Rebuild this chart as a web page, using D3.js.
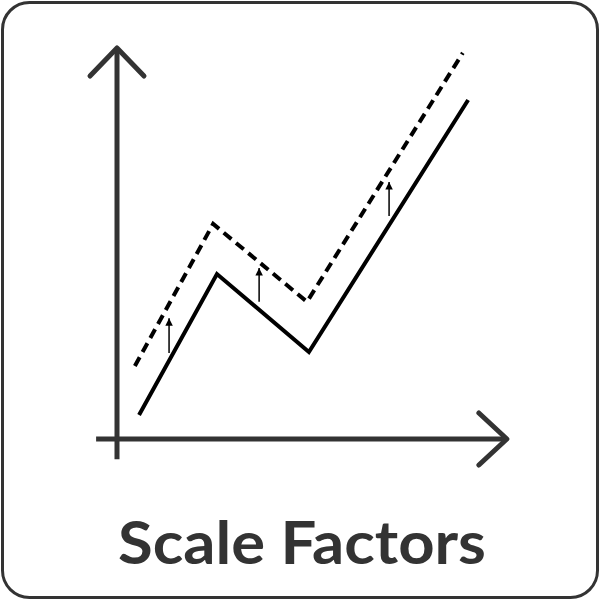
<!DOCTYPE html>
<html>
<head>
<meta charset="utf-8">
<script src="https://cdn.jsdelivr.net/npm/d3@7"></script>
<style>
  html, body { margin: 0; padding: 0; background: #ffffff; }
  svg { display: block; }
</style>
</head>
<body>
<div id="chart"></div>
<script>
// values, in axis units (0..10 on both axes)
const baseX = [0.58, 2.63, 5.05, 9.24];
const baseY = [0.63, 4.34, 2.29, 8.92];
const scaledX = [0.47, 2.53, 5.0, 9.1];
const scaledY = [1.92, 5.66, 3.61, 10.16];
const shiftX = [1.37, 3.74, 7.16];
const shiftFrom = [2.26, 3.61, 5.87];
const shiftTo = [3.18, 4.5, 6.76];
const axisX = [-0.55, 10.26];
const axisY = [-0.53, 10.29];
const title = "Scale Factors";

const width = 600;
const height = 600;
const ink = "#333333";

const x = d3.scaleLinear().domain([0, 10]).range([117, 497]);
const y = d3.scaleLinear().domain([0, 10]).range([439, 59]);

const svg = d3.select("#chart")
  .append("svg")
  .attr("width", width)
  .attr("height", height)
  .attr("viewBox", `0 0 ${width} ${height}`);

// frame
svg.append("rect")
  .attr("x", 2.5)
  .attr("y", 2.5)
  .attr("width", width - 5)
  .attr("height", height - 5)
  .attr("rx", 27)
  .attr("fill", "#ffffff")
  .attr("stroke", ink)
  .attr("stroke-width", 3);

const defs = svg.append("defs");
defs.append("marker")
  .attr("id", "tip")
  .attr("viewBox", "0 0 10 10")
  .attr("refX", 10)
  .attr("refY", 5)
  .attr("markerWidth", 5)
  .attr("markerHeight", 5)
  .attr("markerUnits", "strokeWidth")
  .attr("orient", "auto")
  .append("path")
  .attr("d", "M0,0 L10,5 L0,10 Z")
  .attr("fill", "#000000");

const axes = svg.append("g")
  .attr("fill", "none")
  .attr("stroke", ink)
  .attr("stroke-width", 5)
  .attr("stroke-linecap", "butt");

// y axis
axes.append("line")
  .attr("x1", x(0)).attr("x2", x(0))
  .attr("y1", y(axisY[0])).attr("y2", y(axisY[1]));
axes.append("path")
  .attr("stroke-linecap", "round")
  .attr("stroke-linejoin", "round")
  .attr("d", `M${x(0) - 27},${y(axisY[1]) + 28} L${x(0)},${y(axisY[1])} L${x(0) + 27},${y(axisY[1]) + 28}`);

// x axis
axes.append("line")
  .attr("x1", x(axisX[0])).attr("x2", x(axisX[1]))
  .attr("y1", y(0)).attr("y2", y(0));
axes.append("path")
  .attr("stroke-linecap", "round")
  .attr("stroke-linejoin", "round")
  .attr("d", `M${x(axisX[1]) - 28},${y(0) - 26} L${x(axisX[1])},${y(0)} L${x(axisX[1]) - 28},${y(0) + 26}`);

const line = d3.line()
  .x((d) => x(d[0]))
  .y((d) => y(d[1]));

svg.append("path")
  .datum(d3.zip(scaledX, scaledY))
  .attr("fill", "none")
  .attr("stroke", "#000000")
  .attr("stroke-width", 4)
  .attr("stroke-dasharray", "10 6")
  .attr("stroke-linejoin", "miter")
  .attr("d", line);

svg.append("path")
  .datum(d3.zip(baseX, baseY))
  .attr("fill", "none")
  .attr("stroke", "#000000")
  .attr("stroke-width", 4)
  .attr("stroke-linejoin", "miter")
  .attr("d", line);

// shift arrows
svg.append("g")
  .selectAll("line")
  .data(shiftX.map((v, i) => ({ x: v, from: shiftFrom[i], to: shiftTo[i] })))
  .join("line")
  .attr("x1", (d) => x(d.x))
  .attr("x2", (d) => x(d.x))
  .attr("y1", (d) => y(d.from))
  .attr("y2", (d) => y(d.to))
  .attr("stroke", "#000000")
  .attr("stroke-width", 1.5)
  .attr("marker-end", "url(#tip)");

svg.append("text")
  .attr("x", 302)
  .attr("y", 564)
  .attr("text-anchor", "middle")
  .attr("fill", ink)
  .attr("font-family", "Lato, 'Noto Sans', sans-serif")
  .attr("font-weight", 700)
  .attr("font-size", 60)
  .attr("textLength", 368)
  .attr("lengthAdjust", "spacingAndGlyphs")
  .text(title);
</script>
</body>
</html>
